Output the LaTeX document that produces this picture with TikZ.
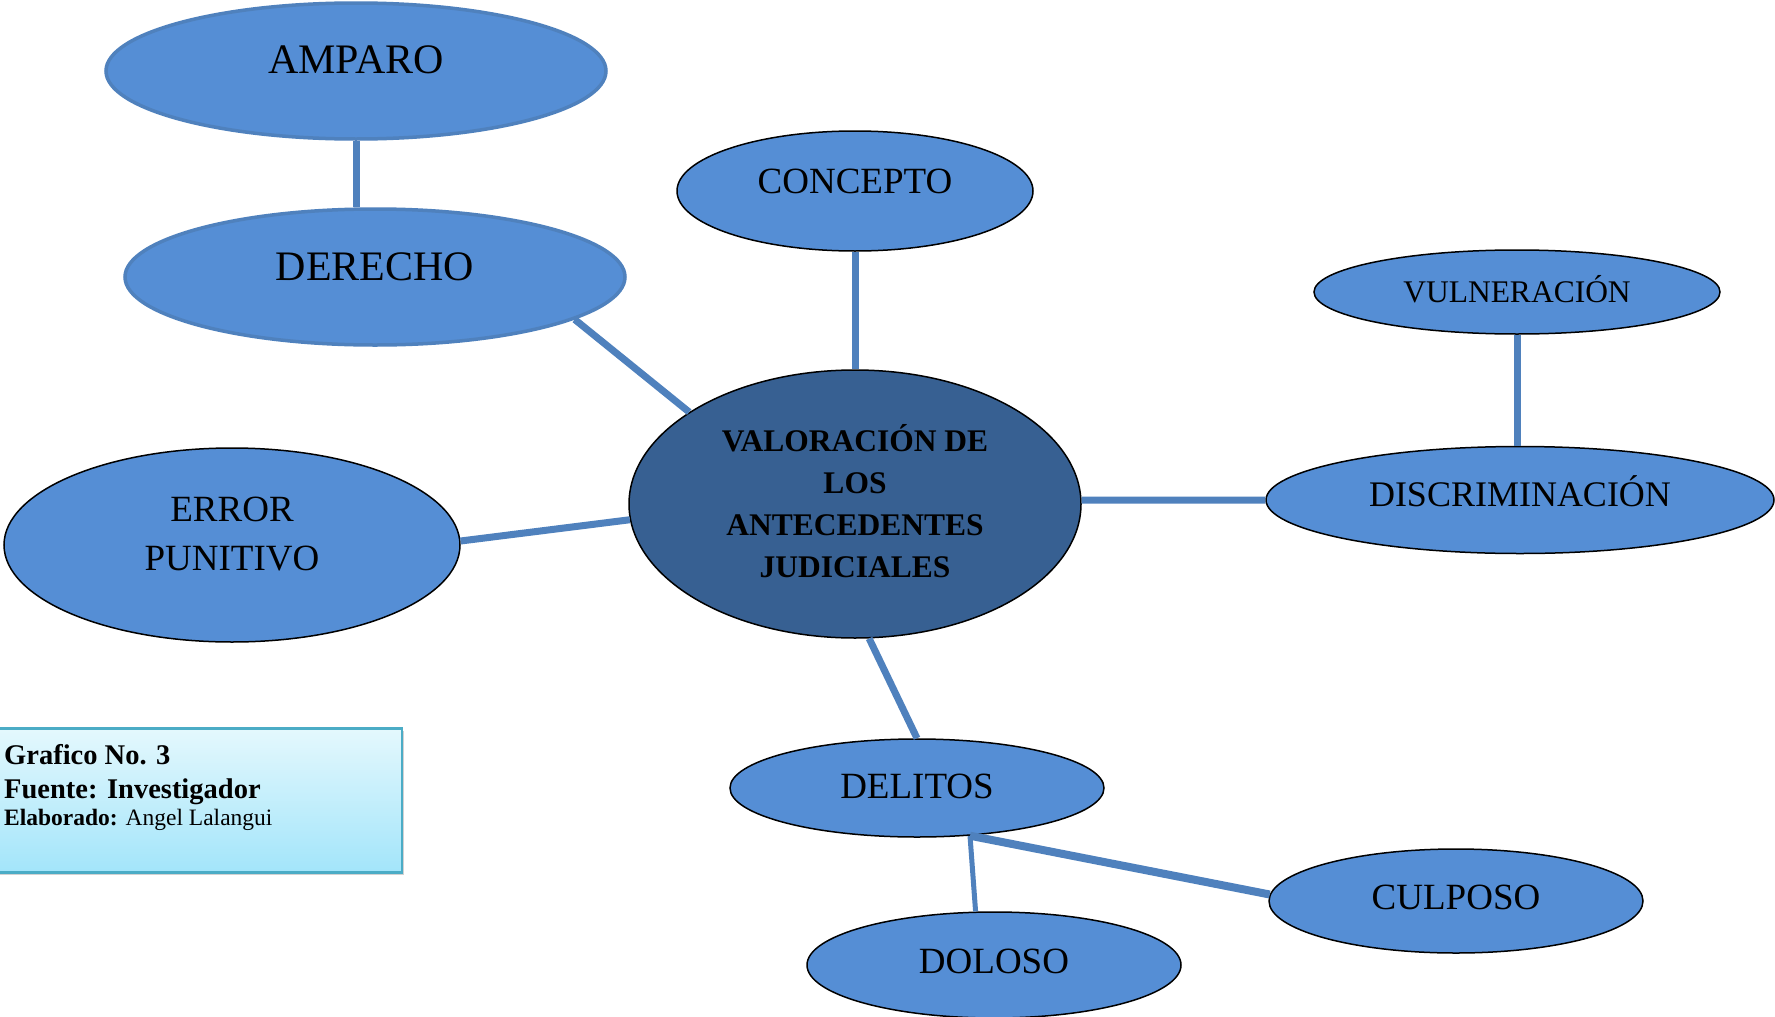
\documentclass[tikz,border=0pt]{standalone}
\usepackage{fontspec}
\setmainfont{Liberation Serif}
\usetikzlibrary{shapes.geometric,calc,shadows}
\definecolor{bubfill}{RGB}{85,142,213}
\definecolor{cenfill}{RGB}{55,96,146}
\definecolor{linkc}{RGB}{79,129,189}
\definecolor{legborder}{RGB}{75,172,198}
\definecolor{legtop}{RGB}{228,248,253}
\definecolor{legbot}{RGB}{163,229,250}
\tikzset{
  bub/.style={ellipse, fill=bubfill, draw=black, line width=1.5pt, inner sep=0pt},
  bubblue/.style={bub, draw=linkc, line width=3.5pt},
  txt/.style={font=\fontsize{37}{49}\selectfont, text=black, inner sep=0pt, align=center},
  bigtxt/.style={txt, font=\fontsize{42}{50}\selectfont},
  link/.style={draw=linkc, line width=7pt},
  legbox/.style={rectangle, draw=legborder, line width=2.5pt, top color=legtop, bottom color=legbot,
    drop shadow={shadow xshift=2pt, shadow yshift=-3pt, opacity=0.35}},
  legtxt/.style={anchor=base west, inner sep=0pt, font=\bfseries\fontsize{28.5}{34}\selectfont},
}
\begin{document}
\begin{tikzpicture}[x=1pt,y=-1pt]
\useasboundingbox (0,0) rectangle (1775,1017);
\fill[white] (0,0) rectangle (1775,1017);

% legend
\node[legbox, anchor=north east, minimum width=420pt, minimum height=144pt] (leg) at (403,727) {};
\node[legtxt] (l1) at (4,764) {Grafico No. 3};
\node[legtxt] (l2) at (4,798) {Fuente: Investigador};
\node[legtxt, font=\fontsize{23.5}{28}\selectfont] (l3) at (4,825) {\textbf{Elaborado:} Angel Lalangui};

% bubbles
\node[bubblue, minimum width=500pt, minimum height=136pt,
  label={[bigtxt, yshift=11pt]center:AMPARO}] (amp) at (356,71) {};
\node[bubblue, minimum width=500pt, minimum height=136pt,
  label={[bigtxt, yshift=10pt]center:DERECHO}] (der) at (375,277) {};
\node[bub, minimum width=356pt, minimum height=120pt,
  label={[txt, yshift=10pt]center:CONCEPTO}] (con) at (855,191) {};
\node[bub, minimum width=406pt, minimum height=84pt,
  label={[txt, font=\fontsize{31.5}{38}\selectfont, yshift=3pt]center:VULNERACIÓN}] (vul) at (1517,292) {};
\node[bub, minimum width=508pt, minimum height=107pt,
  label={[txt, font=\fontsize{36}{44}\selectfont, yshift=9pt]center:DISCRIMINACIÓN}] (dis) at (1520,500) {};
\node[bub, fill=cenfill, minimum width=452pt, minimum height=268pt,
  label={[txt, font=\bfseries\fontsize{31.5}{42}\selectfont, yshift=3pt]center:VALORACIÓN DE\\LOS\\ANTECEDENTES\\JUDICIALES}] (cen) at (855,504) {};
\node[bub, minimum width=456pt, minimum height=194pt,
  label={[txt, yshift=11pt]center:ERROR\\PUNITIVO}] (err) at (232,545) {};
\node[bub, minimum width=374pt, minimum height=98pt,
  label={[txt, yshift=2pt]center:DELITOS}] (del) at (917,788) {};
\node[bub, minimum width=374pt, minimum height=104pt,
  label={[txt, yshift=4pt]center:CULPOSO}] (cul) at (1456,901) {};
\node[bub, minimum width=374pt, minimum height=106pt,
  label={[txt, yshift=4pt]center:DOLOSO}] (dol) at (994,965) {};

% connectors
\draw[link] (amp.south) -- (amp.south |- der.north);
\draw[link] (der.-12) -- (cen.151);
\draw[link] (con.south) -- (cen.north);
\draw[link] (err.1) -- (cen.184);
\draw[link] (cen.1) -- (dis.180);
\draw[link] (vul.south) -- (vul.south |- dis.north);
\draw[link] (cen.-84) -- (del.north);
\coordinate (j) at (del.-42);
\draw[link, line width=5pt] (j) -- (dol.109);
\draw[link, line width=8pt] (j) -- (cul.178);
\end{tikzpicture}
\end{document}
